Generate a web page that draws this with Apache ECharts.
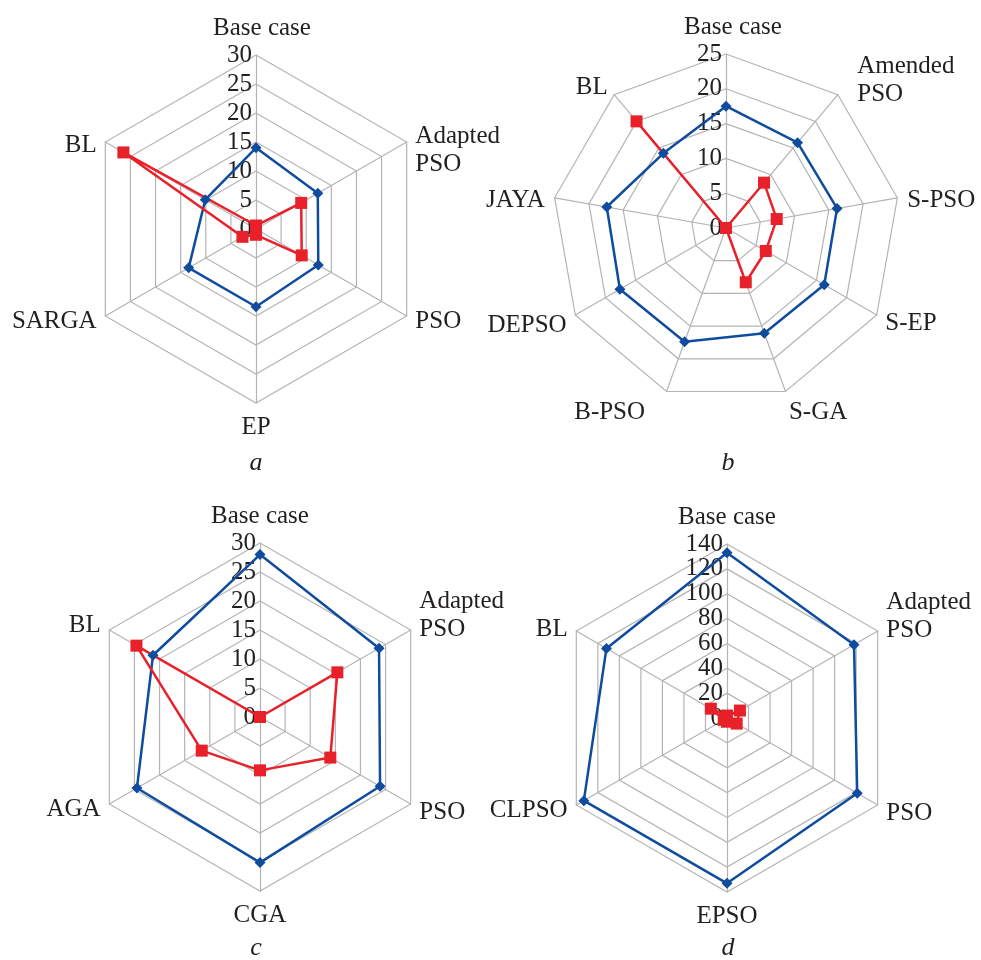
<!DOCTYPE html>
<html><head><meta charset="utf-8">
<script src="https://cdn.jsdelivr.net/npm/echarts@6/dist/echarts.min.js"></script>
<style>html,body{margin:0;padding:0;background:#fff}#c{width:981px;height:960px}</style>
</head><body><div id="c"></div>
<script>
// Panel a
const catsA = ['Base case', 'Adapted\nPSO', 'PSO', 'EP', 'SARGA', 'BL'];
const blueA = [14, 12.3, 12.4, 13.4, 13.4, 10.1];
const redA  = [0.6, 9, 9.1, 1, 2.7, 26.4];
const maxA = 30;
// Panel b
const catsB = ['Base case', 'Amended\nPSO', 'S-PSO', 'S-EP', 'S-GA', 'B-PSO', 'DEPSO', 'JAYA', 'BL'];
const blueB = [17.5, 16, 16.2, 16.3, 16.1, 17.4, 17.6, 17.4, 14];
const redB  = [0, 8.5, 7.4, 6.6, 8.3, 0, 0, 0, 20];
const maxB = 25;
// Panel c
const catsC = ['Base case', 'Adapted\nPSO', 'PSO', 'CGA', 'AGA', 'BL'];
const blueC = [28, 23.7, 23.9, 25.1, 24.5, 21.3];
const redC  = [0, 15.4, 14, 9.2, 11.6, 24.6];
const maxC = 30;
// Panel d
const catsD = ['Base case', 'Adapted\nPSO', 'PSO', 'EPSO', 'CLPSO', 'BL'];
const blueD = [133, 118, 121, 133, 133, 112];
const redD  = [2, 12, 9, 3, 3, 15];
const maxD = 140;

const panelLabels = ['a', 'b', 'c', 'd'];

const FONT = '"Liberation Serif", "Times New Roman", serif';
const TXT = '#231f20';
const BLUE = '#0f4c9e';
const RED = '#e8202a';
const GRID = '#b4b4b4';

// layout-only nudges of the category names: [dx, dy] in px, by category index
const nudges = [
  { 0: [6, 0], 1: [0, 13], 5: [0, 8] },
  { 0: [7, 0], 1: [13, -7], 2: [0, 4], 3: [0, 3], 4: [0, 12], 5: [-18, 12], 6: [0, 5], 7: [0, 4] },
  { 1: [0, -10], 2: [0, 3] },
  { 1: [0, -10], 2: [0, 3], 5: [0, 3] }
];

// ECharts places indicators counter-clockwise; reorder so the reference reads clockwise
function reorder(arr) { return [arr[0]].concat(arr.slice(1).reverse()); }

function makeRadar(cats, max, split, center, nud) {
  const n = cats.length;
  const dyByName = {};
  const rich = {};
  const base = cats.map((name, i) => {
    const o = { name: name, min: 0, max: max };
    const nd = nud[i];
    if (nd) {
      const dx = nd[0], dy = nd[1];
      if (dx) {
        let p;
        if (i === 0) p = dx > 0 ? [0, 0, 0, 2 * dx] : [0, -2 * dx, 0, 0];
        else if (i < n / 2) p = [0, 0, 0, Math.max(dx, 0)];
        else p = [0, Math.max(-dx, 0), 0, 0];
        o.nameTextStyle = { padding: p };
      }
      if (dy) {
        dyByName[name] = dy;
        const h = Math.abs(2 * dy);
        rich['sp' + h] = { height: h, lineHeight: h, fontSize: 1 };
      }
    }
    if (i === 0) o.axisLabel = { show: true, fontSize: 25, fontFamily: FONT, color: TXT, margin: 4,
      padding: [6, 0, 0, 0], showMaxLabel: true, showMinLabel: true };
    return o;
  });
  return {
    indicator: reorder(base),
    center: center,
    radius: 174,
    startAngle: 90,
    shape: 'polygon',
    splitNumber: split,
    nameGap: 10,
    axisName: {
      color: TXT, fontSize: 25, fontFamily: FONT, lineHeight: 28, rich: rich,
      formatter: function (name) {
        const dy = dyByName[name];
        if (!dy) return name;
        const tag = '{sp' + Math.abs(2 * dy) + '|}';
        return dy > 0 ? tag + '\n' + name : name + '\n' + tag;
      }
    },
    axisLine: { lineStyle: { color: GRID, width: 1.2 } },
    splitLine: { lineStyle: { color: GRID, width: 1.2 } },
    splitArea: { show: false },
    axisTick: { show: false },
    axisLabel: { show: false }
  };
}

const radars = [
  makeRadar(catsA, maxA, 6, [256, 229], nudges[0]),
  makeRadar(catsB, maxB, 5, [726, 228], nudges[1]),
  makeRadar(catsC, maxC, 6, [260, 717], nudges[2]),
  makeRadar(catsD, maxD, 7, [727, 718], nudges[3])
];
const blues = [blueA, blueB, blueC, blueD];
const reds = [redA, redB, redC, redD];

const series = [];
for (let i = 0; i < 4; i++) {
  series.push({
    type: 'radar', radarIndex: i, silent: true, animation: false,
    data: [
      { value: reorder(blues[i]), symbol: 'diamond', symbolSize: 11,
        lineStyle: { color: BLUE, width: 2.5 }, itemStyle: { color: BLUE } },
      { value: reorder(reds[i]), symbol: 'rect', symbolSize: 12,
        lineStyle: { color: RED, width: 2.5 }, itemStyle: { color: RED } }
    ]
  });
}

const labelPos = [[256, 463], [728, 463], [256, 948], [728, 948]];
const graphic = panelLabels.map((t, i) => ({
  type: 'text', x: labelPos[i][0], y: labelPos[i][1],
  style: { text: t, font: 'italic 26px ' + FONT, fill: TXT, align: 'center', verticalAlign: 'middle' }
}));

const chart = echarts.init(document.getElementById('c'), null, { renderer: 'canvas' });
chart.setOption({
  backgroundColor: '#ffffff',
  animation: false,
  radar: radars,
  series: series,
  graphic: graphic
});
</script>
</body></html>
